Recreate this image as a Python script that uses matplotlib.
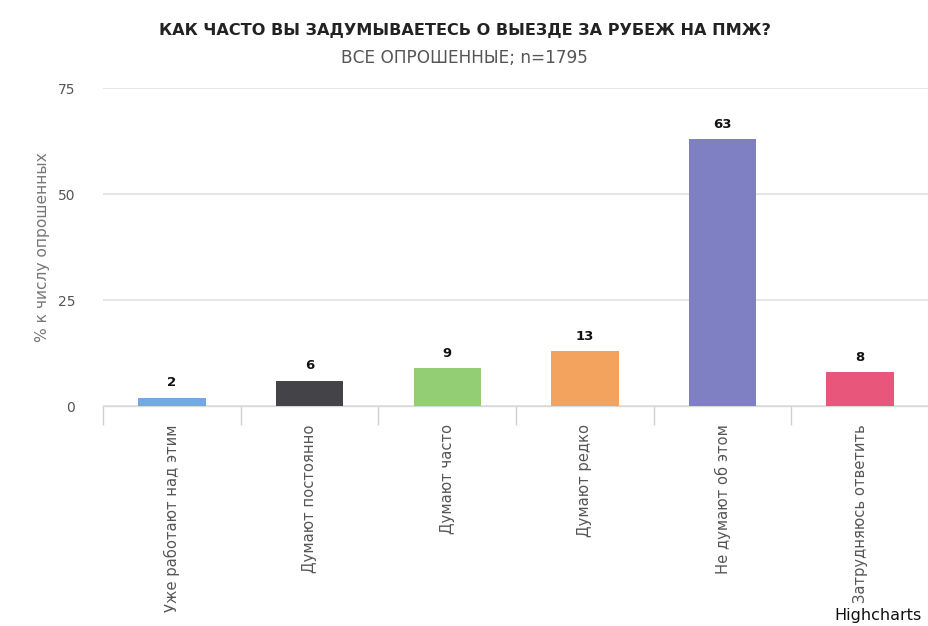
import matplotlib
matplotlib.use("Agg")
import matplotlib.pyplot as plt
import numpy as np

categories = ["Уже работают над этим", "Думают постоянно", "Думают часто",
              "Думают редко", "Не думают об этом", "Затрудняюсь ответить"]
values = [2, 6, 9, 13, 63, 8]
labels = ["2", "6", "9", "13", "63", "8"]
colors = ["#74a9de", "#434348", "#93cd74", "#f3a35e", "#7f80c3", "#e9567c"]
yticks = [0, 25, 50, 75]

plt.rcParams['font.family'] = ['DejaVu Sans']

fig = plt.figure(figsize=(9.29, 6.26), dpi=100)
ax = fig.add_axes([0.111, 0.3514, 0.889, 0.5080])

x = np.arange(len(categories))
ax.bar(x, values, width=0.49, color=colors, zorder=3)
for xi, v, lab in zip(x, values, labels):
    ax.annotate(lab, (xi, v), xytext=(0, 6), textcoords="offset points",
                ha="center", va="bottom", fontsize=9.5, fontweight="bold", color="#111111")

ax.set_xlim(-0.5, len(categories) - 0.5)
ax.set_ylim(0, 75)
ax.set_yticks(yticks)
ax.set_yticklabels([str(t) for t in yticks], fontsize=10, color="#555555")
ax.yaxis.grid(True, color="#e0e0e0", linewidth=1.2, zorder=0)
ax.tick_params(axis="y", length=0, pad=20)

ax.set_xticks(x)
ax.set_xticklabels(categories, rotation=90, ha="center", va="top",
                   fontsize=10.6, color="#555555")
ax.tick_params(axis="x", length=0, pad=13)
# category separators
ax.set_xticks(np.arange(-0.5, len(categories)), minor=True)
ax.tick_params(axis="x", which="minor", length=14, color="#d0d0d0", width=1)

for s in ["top", "right", "left"]:
    ax.spines[s].set_visible(False)
ax.spines["bottom"].set_color("#d8d8d8")
ax.spines["bottom"].set_linewidth(1)

ax.set_ylabel("% к числу опрошенных", fontsize=11.2, color="#777777", labelpad=6)

fig.text(0.5, 0.952, "КАК ЧАСТО ВЫ ЗАДУМЫВАЕТЕСЬ О ВЫЕЗДЕ ЗА РУБЕЖ НА ПМЖ?",
         ha="center", va="center", fontsize=11.6, fontweight="bold", color="#222222")
fig.text(0.5, 0.907, "ВСЕ ОПРОШЕННЫЕ; n=1795",
         ha="center", va="center", fontsize=12.2, color="#555555")
fig.text(0.992, 0.004, "Highcharts", ha="right", va="bottom", fontsize=11.5, color="#111111")

fig.savefig("out.png", dpi=100, facecolor="white")
